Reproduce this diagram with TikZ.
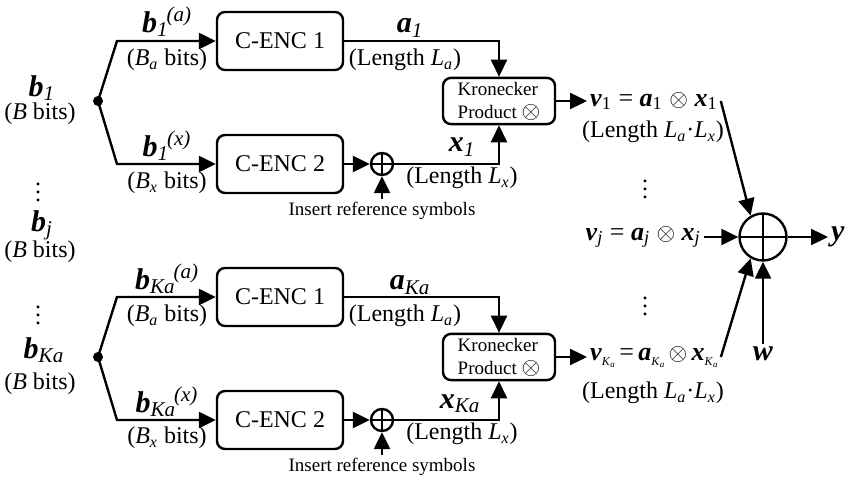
\documentclass[tikz,border=0pt]{standalone}
\usepackage{fontspec}
\setmainfont{Liberation Serif}
\usetikzlibrary{arrows.meta}
\newcommand{\bv}[1]{\textbf{\textit{#1}}}
\newcommand{\sbt}[1]{\textsubscript{\textit{#1}}}
\newcommand{\spt}[1]{\kern-1pt\textsuperscript{\textit{#1}}}
\newcommand{\sKa}{\raisebox{-2.5pt}{\fontsize{6}{6}\selectfont\textit{K}\raisebox{-1.2pt}{\fontsize{4.5}{4.5}\selectfont\textit{a}}}}
\begin{document}
\begin{tikzpicture}[x=0.5pt, y=-0.5pt, line width=1.2pt, font=\fontsize{12}{14}\selectfont,
	every node/.style={inner sep=1pt},
	enc/.style={draw, rounded corners=4pt, minimum width=63pt, minimum height=29pt},
	kron/.style={draw, rounded corners=4pt, minimum width=56pt, minimum height=23pt, inner sep=2pt, align=left, font=\fontsize{9.5}{11.5}\selectfont},
	add/.style={circle, draw, minimum size=#1, inner sep=0pt, path picture={\draw (path picture bounding box.north) -- (path picture bounding box.south) (path picture bounding box.west) -- (path picture bounding box.east);}},
	dot/.style={circle, fill, inner sep=0pt, minimum size=5pt},
	arr/.style={-{Triangle[length=8.5pt, width=8pt]}},
	vlab/.style={font=\fontsize{15}{17}\selectfont},
	eqn/.style={font=\fontsize{13}{15}\selectfont},
	note/.style={font=\fontsize{9.5}{11}\selectfont}]
	
	\useasboundingbox (0,0) rectangle (868,481);
	
	% Các khối vào bên trái
	\node[vlab] (b1) at (42,88) {\bv{b}\sbt{1}};
	\node (b1n) at (40,114) {(\textit{B} bits)};
	\node (dl1) at (38,186) {$\vdots$};
	\node[vlab] (bj) at (42,225) {\bv{b}\sbt{j}};
	\node (bjn) at (40,252) {(\textit{B} bits)};
	\node (dl2) at (38,309) {$\vdots$};
	\node[vlab] (bK) at (44,350) {\bv{b}\sbt{Ka}};
	\node (bKn) at (40,384) {(\textit{B} bits)};
	
	% Nhánh thứ nhất
	\node[dot] (s1) at (98,101) {};
	\coordinate (s1a) at (117,41);
	\coordinate (s1x) at (117,164);
	\node[enc] (e1a) at (280,41) {C-ENC 1};
	\node[enc] (e1x) at (280,164) {C-ENC 2};
	\node[add=11pt] (p1) at (382,164) {};
	\node[kron] (k1) at (499,101) {Kronecker\\Product {\fontsize{13}{13}\selectfont$\otimes$}};
	\node[note] (ins1) at (382,211) {Insert reference symbols};
	\node[vlab] (l1a) at (167,22) {\bv{b}\sbt{1}\spt{(a)}};
	\node (l1an) at (167,60) {(\textit{B}\sbt{a} bits)};
	\node[vlab] (l1x) at (167,146) {\bv{b}\sbt{1}\spt{(x)}};
	\node (l1xn) at (167,183) {(\textit{B}\sbt{x} bits)};
	\node[vlab] (a1) at (410,28) {\bv{a}\sbt{1}};
	\node (a1n) at (405,60) {(Length \textit{L}\sbt{a})};
	\node[vlab] (x1) at (462,147) {\bv{x}\sbt{1}};
	\node (x1n) at (462,178) {(Length \textit{L}\sbt{x})};
	\node[eqn, anchor=west] (v1) at (587,101) {\bv{v}\textsubscript{1} = \bv{a}\textsubscript{1} $\otimes$ \bv{x}\textsubscript{1}};
	\node (v1n) at (653,132) {(Length \textit{L}\sbt{a}·\textit{L}\sbt{x})};
	
	\draw[arr] (s1.center) -- (s1a) -- (e1a.west);
	\draw[arr] (s1.center) -- (s1x) -- (e1x.west);
	\draw[arr] (e1a.east) -| (k1.north);
	\draw[arr] (e1x.east) -- (p1.west);
	\draw[arr] (p1.east) -| (k1.south);
	\draw[arr] (ins1.north) -- (p1.south);
	\draw[arr] (k1.east) -- (v1.west);
	
	% Nhánh thứ Ka
	\node[dot] (s2) at (98,357) {};
	\coordinate (s2a) at (117,297);
	\coordinate (s2x) at (117,420);
	\node[enc] (e2a) at (280,297) {C-ENC 1};
	\node[enc] (e2x) at (280,420) {C-ENC 2};
	\node[add=11pt] (p2) at (382,420) {};
	\node[kron] (k2) at (499,357) {Kronecker\\Product {\fontsize{13}{13}\selectfont$\otimes$}};
	\node[note] (ins2) at (382,467) {Insert reference symbols};
	\node[vlab] (l2a) at (167,279) {\bv{b}\sbt{Ka}\spt{(a)}};
	\node (l2an) at (167,316) {(\textit{B}\sbt{a} bits)};
	\node[vlab] (l2x) at (167,402) {\bv{b}\sbt{Ka}\spt{(x)}};
	\node (l2xn) at (167,438) {(\textit{B}\sbt{x} bits)};
	\node[vlab] (a2) at (410,285) {\bv{a}\sbt{Ka}};
	\node (a2n) at (405,316) {(Length \textit{L}\sbt{a})};
	\node[vlab] (x2) at (460,404) {\bv{x}\sbt{Ka}};
	\node (x2n) at (462,434) {(Length \textit{L}\sbt{x})};
	\node[eqn, anchor=west] (v2) at (587,357) {\bv{v}\sKa\,=\,\bv{a}\sKa\,$\otimes$\,\bv{x}\sKa};
	\node (v2n) at (653,393) {(Length \textit{L}\sbt{a}·\textit{L}\sbt{x})};
	
	\draw[arr] (s2.center) -- (s2a) -- (e2a.west);
	\draw[arr] (s2.center) -- (s2x) -- (e2x.west);
	\draw[arr] (e2a.east) -| (k2.north);
	\draw[arr] (e2x.east) -- (p2.west);
	\draw[arr] (p2.east) -| (k2.south);
	\draw[arr] (ins2.north) -- (p2.south);
	\draw[arr] (k2.east) -- (v2.west);
	
	% Bộ cộng
	\node[add=23.5pt] (sum) at (763,237) {};
	\node[eqn, anchor=east] (vj) at (704,237) {\bv{v}\sbt{j} = \bv{a}\sbt{j} $\otimes$ \bv{x}\sbt{j}};
	\node[vlab, anchor=west] (y) at (828,237) {\bv{y}};
	\node[vlab] (w) at (763,354) {\bv{w}};
	\node (dr1) at (645,183) {$\vdots$};
	\node (dr2) at (645,300) {$\vdots$};
	
	\draw[arr] (v1.east) -- (sum.120);
	\draw[arr] (v2.east) -- (sum.240);
	\draw[arr] (vj.east) -- (sum.west);
	\draw[arr] (w.north) -- (sum.south);
	\draw[arr] (sum.east) -- (y.west);
	
\end{tikzpicture}
\end{document}
